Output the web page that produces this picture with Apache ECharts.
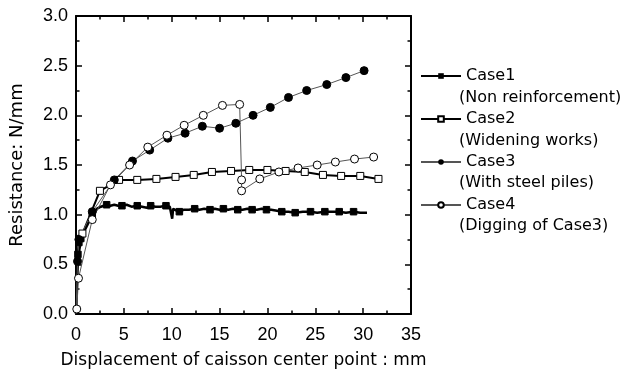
<!DOCTYPE html>
<html><head><meta charset="utf-8">
<script src="https://cdn.jsdelivr.net/npm/echarts@6/dist/echarts.min.js"></script>
<style>html,body{margin:0;padding:0;background:#fff}#c{width:624px;height:374px}</style>
</head><body><div id="c"></div>
<script>
// [x, y, showMarker]
const case1 = [[0,0,0],[0.1,0.35,0],[0.2,0.6,1],[0.3,0.72,1],[0.5,0.76,1],[0.8,0.82,0],[1.2,0.9,0],[1.7,1.0,1],[2.2,1.06,0],[2.6,1.08,0],[3.2,1.10,1],[3.6,1.09,0],[4.0,1.10,0],[4.4,1.09,0],[4.8,1.09,1],[5.3,1.10,0],[5.8,1.08,0],[6.4,1.09,1],[6.9,1.08,0],[7.4,1.07,0],[7.8,1.09,1],[8.3,1.08,0],[8.8,1.08,0],[9.4,1.09,1],[9.8,1.08,0],[10.0,1.07,0],[10.05,0.96,0],[10.15,1.06,0],[10.5,1.04,0],[10.8,1.03,1],[11.3,1.05,0],[11.8,1.05,0],[12.4,1.06,1],[12.9,1.05,0],[13.4,1.06,0],[14.0,1.05,1],[14.5,1.06,0],[15.0,1.05,0],[15.4,1.06,1],[15.9,1.05,0],[16.4,1.06,0],[16.9,1.05,1],[17.4,1.05,0],[17.9,1.06,0],[18.4,1.05,1],[18.9,1.05,0],[19.4,1.06,0],[19.9,1.05,1],[20.4,1.05,0],[21.0,1.04,0],[21.5,1.03,1],[22.2,1.03,0],[22.9,1.02,1],[23.7,1.03,0],[24.5,1.03,1],[25.2,1.02,0],[26.0,1.03,1],[26.7,1.03,0],[27.5,1.03,1],[28.2,1.02,0],[29.0,1.03,1],[29.7,1.02,0],[30.4,1.02,0]];
const case2 = [[0,0,0],[0.2,0.55,0],[0.67,0.81,1],[2.5,1.24,1],[4.5,1.35,1],[6.4,1.35,1],[8.4,1.36,1],[10.4,1.38,1],[12.3,1.40,1],[14.2,1.43,1],[16.2,1.44,1],[18.1,1.45,1],[20.0,1.45,1],[21.9,1.44,1],[23.9,1.43,1],[25.8,1.40,1],[27.7,1.39,1],[29.7,1.39,1],[31.6,1.36,1]];
const case3 = [[0,0,0],[0.16,0.53,1],[0.3,0.75,1],[1.7,1.03,1],[4.0,1.35,1],[5.9,1.54,1],[7.7,1.65,1],[9.6,1.77,1],[11.4,1.82,1],[13.2,1.89,1],[15.0,1.87,1],[16.7,1.92,1],[18.5,2.00,1],[20.3,2.08,1],[22.2,2.18,1],[24.1,2.25,1],[26.2,2.31,1],[28.2,2.38,1],[30.1,2.45,1]];
const case4 = [[0.08,0.05,1],[0.26,0.36,1],[1.7,0.95,1],[3.6,1.30,1],[5.6,1.50,1],[7.5,1.68,1],[9.5,1.80,1],[11.3,1.90,1],[13.3,2.00,1],[15.3,2.10,1],[17.1,2.11,1],[17.3,1.35,1],[17.3,1.24,1],[19.2,1.36,1],[21.2,1.43,1],[23.2,1.47,1],[25.2,1.50,1],[27.1,1.53,1],[29.1,1.56,1],[31.1,1.58,1]];
const names = ['Case1','Case2','Case3','Case4'];
const subtitles = ['(Non reinforcement)','(Widening works)','(With steel piles)','(Digging of Case3)'];
const xTicks = {min:0, max:35, interval:5};
const yTicks = {min:0, max:3, interval:0.5};

const FONT = "'Liberation Sans',sans-serif";
const FONT2 = "'DejaVu Sans',sans-serif";
function toData(arr){ return arr.map(p => p[2] ? {value:[p[0],p[1]]} : {value:[p[0],p[1]], symbol:'none'}); }

const chart = echarts.init(document.getElementById('c'), null, {renderer:'canvas'});
const axisCommon = {
  axisLine:{show:true, onZero:false, lineStyle:{color:'#000', width:2}},
  axisTick:{show:true, inside:true, length:6, lineStyle:{color:'#000', width:1.5}},
  minorTick:{show:true, splitNumber:2, length:3.5, lineStyle:{color:'#000', width:1.5}},
  splitLine:{show:false}
};
chart.setOption({
  animation:false,
  grid:{left:72.5, right:213, top:16, bottom:58},
  xAxis:[
    Object.assign({type:'value', position:'bottom', min:xTicks.min, max:xTicks.max, interval:xTicks.interval,
      name:'Displacement of caisson center point : mm', nameLocation:'middle', nameGap:38,
      nameTextStyle:{color:'#000', fontSize:17, fontFamily:FONT2},
      axisLabel:{color:'#000', fontSize:18, fontFamily:FONT, margin:12}}, axisCommon),
    Object.assign({type:'value', position:'top', min:xTicks.min, max:xTicks.max, interval:xTicks.interval,
      axisLabel:{show:false}}, axisCommon)
  ],
  yAxis:[
    Object.assign({type:'value', position:'left', min:yTicks.min, max:yTicks.max, interval:yTicks.interval,
      name:'Resistance: N/mm', nameLocation:'middle', nameGap:50,
      nameTextStyle:{color:'#000', fontSize:18, fontFamily:FONT2},
      axisLabel:{color:'#000', fontSize:18, fontFamily:FONT, margin:8, formatter:v=>v.toFixed(1)}}, axisCommon),
    Object.assign({type:'value', position:'right', min:yTicks.min, max:yTicks.max, interval:yTicks.interval,
      axisLabel:{show:false}}, axisCommon)
  ],
  legend:{
    orient:'vertical', left:415, top:63, itemWidth:40, itemHeight:7, itemGap:27,
    textStyle:{color:'#000', fontSize:16, fontFamily:FONT2},
    data:names
  },
  graphic: subtitles.map((t,i)=>({type:'text', x:459, y:98+i*42.5,
    style:{text:t, fill:'#000', font:"16px "+FONT2, verticalAlign:'middle'}})),
  series:[
    {name:names[0], type:'line', data:toData(case1), symbol:'rect', symbolSize:6.5,
      lineStyle:{color:'#000', width:2.5}, itemStyle:{color:'#000', borderColor:'#000'}},
    {name:names[1], type:'line', data:toData(case2), symbol:'rect', symbolSize:7,
      lineStyle:{color:'#000', width:2}, itemStyle:{color:'#fff', borderColor:'#000', borderWidth:1}},
    {name:names[2], type:'line', data:toData(case3), symbol:'circle', symbolSize:8,
      lineStyle:{color:'#555', width:1}, itemStyle:{color:'#000', borderColor:'#000'}},
    {name:names[3], type:'line', data:toData(case4), symbol:'circle', symbolSize:8,
      lineStyle:{color:'#555', width:1}, itemStyle:{color:'#fff', borderColor:'#000', borderWidth:1}}
  ]
});
</script></body></html>
